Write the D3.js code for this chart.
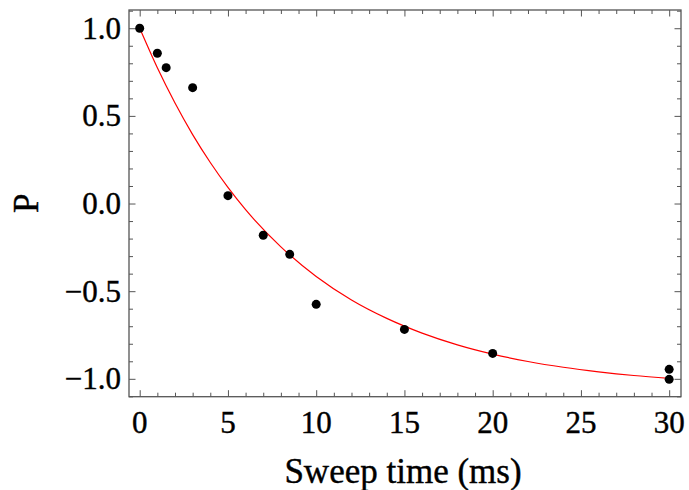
<!DOCTYPE html>
<html>
<head>
<meta charset="utf-8">
<script src="https://cdn.jsdelivr.net/npm/d3@7/dist/d3.min.js"></script>
<style>
  body { margin: 0; background: #fff; }
  svg { display: block; }
  text { font-family: "Liberation Serif", "DejaVu Serif", serif; fill: #000; stroke: #000; stroke-width: 0.4px; }
</style>
</head>
<body>
<svg id="chart" width="689" height="490"></svg>
<script>
// ---- data ----
const sweepTime = [0, 1, 1.5, 3, 5, 7, 8.5, 10, 15, 20, 30, 30];
const polarization = [1.0, 0.857, 0.775, 0.661, 0.045, -0.181, -0.29, -0.575, -0.718, -0.855, -0.946, -1.003];
// fitted curve
const fitTime = [0, 1, 2, 3, 4, 5, 6, 8, 10, 12, 14, 16, 18, 20, 22, 24, 26, 28, 30];
const fitValue = [1.0, 0.774, 0.573, 0.393, 0.234, 0.092, -0.035, -0.247, -0.416, -0.550, -0.655, -0.739, -0.806, -0.859, -0.901, -0.934, -0.960, -0.981, -0.997];
const xMajorTicks = [0, 5, 10, 15, 20, 25, 30];
const xMinorTicks = d3.range(0, 31, 1);
const yMajorTicks = [-1.0, -0.5, 0.0, 0.5, 1.0];
const yMinorTicks = d3.range(-11, 12, 1).map(d => d / 10);
const xTitle = "Sweep time (ms)";
const yTitle = "P";

// ---- layout ----
const pL = 129, pR = 681, pT = 10, pB = 396.7;
const svg = d3.select("#chart");
const x = d3.scaleLinear().domain([-0.606, 30.67]).range([pL, pR]);
const y = d3.scaleLinear().domain([-1.102, 1.104]).range([pB, pT]);

const frameColor = "#555";
const majorLen = 6.5, minorLen = 4;

function styleAxis(g) {
  g.select(".domain").remove();
  g.selectAll(".tick line").attr("stroke", frameColor).attr("stroke-width", 1);
  g.selectAll("text").remove();
}
const minorX = xMinorTicks.filter(v => !xMajorTicks.includes(v));
const minorY = yMinorTicks.filter(v => !yMajorTicks.some(m => Math.abs(m - v) < 1e-9));

svg.append("g").attr("transform", `translate(0,${pB})`)
  .call(d3.axisTop(x).tickValues(xMajorTicks).tickSize(majorLen)).call(styleAxis);
svg.append("g").attr("transform", `translate(0,${pB})`)
  .call(d3.axisTop(x).tickValues(minorX).tickSize(minorLen)).call(styleAxis);
svg.append("g").attr("transform", `translate(0,${pT})`)
  .call(d3.axisBottom(x).tickValues(xMajorTicks).tickSize(majorLen)).call(styleAxis);
svg.append("g").attr("transform", `translate(0,${pT})`)
  .call(d3.axisBottom(x).tickValues(minorX).tickSize(minorLen)).call(styleAxis);
svg.append("g").attr("transform", `translate(${pL},0)`)
  .call(d3.axisRight(y).tickValues(yMajorTicks).tickSize(majorLen)).call(styleAxis);
svg.append("g").attr("transform", `translate(${pL},0)`)
  .call(d3.axisRight(y).tickValues(minorY).tickSize(minorLen)).call(styleAxis);
svg.append("g").attr("transform", `translate(${pR},0)`)
  .call(d3.axisLeft(y).tickValues(yMajorTicks).tickSize(majorLen)).call(styleAxis);
svg.append("g").attr("transform", `translate(${pR},0)`)
  .call(d3.axisLeft(y).tickValues(minorY).tickSize(minorLen)).call(styleAxis);

// frame
svg.append("rect")
  .attr("x", pL).attr("y", pT)
  .attr("width", pR - pL).attr("height", pB - pT)
  .attr("fill", "none").attr("stroke", frameColor).attr("stroke-width", 1.3);

// tick labels
svg.append("g").selectAll("text").data(xMajorTicks).join("text")
  .attr("x", d => x(d)).attr("y", 433)
  .attr("text-anchor", "middle")
  .attr("font-size", 31)
  .text(d => d3.format("d")(d));

svg.append("g").selectAll("text").data(yMajorTicks).join("text")
  .attr("x", 121).attr("y", d => y(d) + 10.5)
  .attr("text-anchor", "end")
  .attr("font-size", 31)
  .text(d => d3.format(".1f")(d).replace("-", "\u2212"));

// axis titles
svg.append("text")
  .attr("x", (pL + pR) / 2 - 2).attr("y", 483)
  .attr("text-anchor", "middle")
  .attr("font-size", 35)
  .text(xTitle);

svg.append("text")
  .attr("transform", `translate(38,${(pT + pB) / 2}) rotate(-90)`)
  .attr("text-anchor", "middle")
  .attr("font-size", 35)
  .text(yTitle);

// clip
svg.append("clipPath").attr("id", "plotclip")
  .append("rect").attr("x", pL).attr("y", pT).attr("width", pR - pL).attr("height", pB - pT);

// fit curve
const fitData = fitTime.map((t, i) => [t, fitValue[i]]);
svg.append("path")
  .datum(fitData)
  .attr("clip-path", "url(#plotclip)")
  .attr("fill", "none")
  .attr("stroke", "#ff0000")
  .attr("stroke-width", 1.2)
  .attr("d", d3.line().x(d => x(d[0])).y(d => y(d[1])).curve(d3.curveMonotoneX));

// data points
svg.append("g").selectAll("circle").data(sweepTime.map((t, i) => [t, polarization[i]])).join("circle")
  .attr("cx", d => x(d[0])).attr("cy", d => y(d[1]))
  .attr("r", 4.5)
  .attr("fill", "#000");
</script>
</body>
</html>
